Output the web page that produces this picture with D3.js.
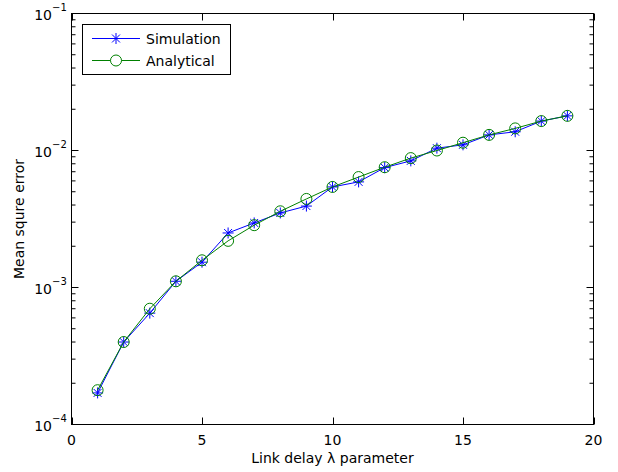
<!DOCTYPE html>
<html><head><meta charset="utf-8">
<script src="https://cdn.jsdelivr.net/npm/d3@7"></script>
<style>body{margin:0;background:#fff}svg{display:block}text{font-family:"DejaVu Sans",sans-serif;fill:#000}</style>
</head><body><svg id="c" width="618" height="472"></svg>
<script>
const lambda = [1,2,3,4,5,6,7,8,9,10,11,12,13,14,15,16,17,18,19];
const simulation = [1.7e-4,4.0e-4,6.5e-4,1.11e-3,1.53e-3,2.5e-3,2.96e-3,3.5e-3,3.93e-3,5.42e-3,5.9e-3,7.5e-3,8.4e-3,1.04e-2,1.10e-2,1.30e-2,1.37e-2,1.64e-2,1.79e-2];
const analytical = [1.78e-4,4.0e-4,7.0e-4,1.11e-3,1.58e-3,2.19e-3,2.85e-3,3.6e-3,4.43e-3,5.42e-3,6.4e-3,7.55e-3,8.8e-3,1.0e-2,1.14e-2,1.30e-2,1.45e-2,1.64e-2,1.79e-2];
const xTicks = [0,5,10,15,20];
const yExponents = [-4,-3,-2,-1];
const seriesNames = ["Simulation","Analytical"];

const svg = d3.select("#c");
const L=71.5, R=593.5, T=13.5, B=424.5;
const x = d3.scaleLinear().domain([0,20]).range([L,R]);
const y = d3.scaleLog().domain([1e-4,1e-1]).range([B,T]);

// frame
svg.append("rect").attr("x",L).attr("y",T).attr("width",R-L).attr("height",B-T)
  .attr("fill","none").attr("stroke","#000").attr("stroke-width",1);

// x ticks (inside, top and bottom)
const g = svg.append("g").attr("stroke","#000").attr("stroke-width",1);
xTicks.forEach(t=>{
  const px = Math.round(x(t))+0.5;
  g.append("line").attr("x1",px).attr("x2",px).attr("y1",B).attr("y2",B-7);
  g.append("line").attr("x1",px).attr("x2",px).attr("y1",T).attr("y2",T+7);
  svg.append("text").attr("x",x(t)).attr("y",445).attr("text-anchor","middle")
    .attr("font-size",14).text(t);
});
// y ticks
yExponents.forEach(e=>{
  const v = Math.pow(10,e);
  const py = y(v);
  g.append("line").attr("x1",L).attr("x2",L+7).attr("y1",py).attr("y2",py);
  g.append("line").attr("x1",R).attr("x2",R-7).attr("y1",py).attr("y2",py);
  const t = svg.append("text").attr("x",52).attr("y",py+6).attr("text-anchor","end").attr("font-size",14);
  t.text("10");
  svg.append("text").attr("x",52).attr("y",py-3).attr("font-size",10).text("\u2212"+(-e));
  if(e<-1){
    for(let k=2;k<=9;k++){
      const my = y(k*v);
      g.append("line").attr("x1",L).attr("x2",L+4).attr("y1",my).attr("y2",my);
      g.append("line").attr("x1",R).attr("x2",R-4).attr("y1",my).attr("y2",my);
    }
  }
});

// axis labels
svg.append("text").attr("x",x(10)).attr("y",463).attr("text-anchor","middle").attr("font-size",14)
  .text("Link delay \u03bb parameter");
svg.append("text").attr("transform",`translate(24,${(T+B)/2}) rotate(-90)`).attr("text-anchor","middle")
  .attr("font-size",14).text("Mean squre error");

const line = d3.line().x((d,i)=>x(lambda[i])).y(d=>y(d));
function star(sel, cx, cy, r, color){
  const gg = sel.append("g").attr("stroke",color).attr("stroke-width",1);
  const d = r*0.72;
  gg.append("line").attr("x1",cx-r).attr("x2",cx+r).attr("y1",cy).attr("y2",cy);
  gg.append("line").attr("x1",cx).attr("x2",cx).attr("y1",cy-r).attr("y2",cy+r);
  gg.append("line").attr("x1",cx-d).attr("x2",cx+d).attr("y1",cy-d).attr("y2",cy+d);
  gg.append("line").attr("x1",cx-d).attr("x2",cx+d).attr("y1",cy+d).attr("y2",cy-d);
}
const blue="#0000ff", green="#008000";
svg.append("path").datum(simulation).attr("d",line).attr("fill","none").attr("stroke",blue).attr("stroke-width",1);
simulation.forEach((v,i)=>star(svg,x(lambda[i]),y(v),5.5,blue));
svg.append("path").datum(analytical).attr("d",line).attr("fill","none").attr("stroke",green).attr("stroke-width",1);
analytical.forEach((v,i)=>svg.append("circle").attr("cx",x(lambda[i])).attr("cy",y(v)).attr("r",5.5)
  .attr("fill","none").attr("stroke",green).attr("stroke-width",1));

// legend
const lg = svg.append("g");
lg.append("rect").attr("x",82.5).attr("y",24.5).attr("width",148).attr("height",50)
  .attr("fill","#fff").attr("stroke","#000").attr("stroke-width",1);
[[38.5,blue,"s"],[60.5,green,"c"]].forEach(([ly,col,m],i)=>{
  lg.append("line").attr("x1",92).attr("x2",140).attr("y1",ly).attr("y2",ly).attr("stroke",col).attr("stroke-width",1);
  if(m==="s") star(lg,116,ly,5.5,col);
  else lg.append("circle").attr("cx",116).attr("cy",ly).attr("r",5.5).attr("fill","#fff").attr("stroke",col);
  lg.append("text").attr("x",146).attr("y",ly+5).attr("font-size",14).text(seriesNames[i]);
});
</script></body></html>
